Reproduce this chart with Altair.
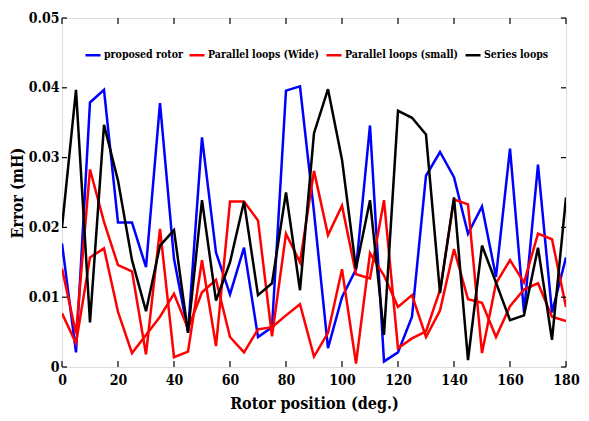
import altair as alt
import pandas as pd

angles = list(range(0, 181, 5))
series_names = ["proposed rotor", "Parallel loops (Wide)", "Parallel loops (small)", "Series loops"]

proposed = [0.0177, 0.0021, 0.0379, 0.0397, 0.0207, 0.0207, 0.0143, 0.0378, 0.0155, 0.0050,
            0.0329, 0.0164, 0.0104, 0.0171, 0.0043, 0.0057, 0.0396, 0.0402, 0.0222, 0.0027,
            0.0100, 0.0140, 0.0346, 0.0008, 0.0021, 0.0072, 0.0274, 0.0308, 0.0272, 0.0191,
            0.0230, 0.0129, 0.0313, 0.0078, 0.0290, 0.0078, 0.0157]
wide = [0.0141, 0.0048, 0.0283, 0.0208, 0.0146, 0.0137, 0.0018, 0.0198, 0.0014, 0.0022,
        0.0153, 0.0030, 0.0237, 0.0237, 0.0210, 0.0044, 0.0191, 0.0150, 0.0281, 0.0189,
        0.0231, 0.0133, 0.0127, 0.0239, 0.0027, 0.0041, 0.0051, 0.0110, 0.0240, 0.0233,
        0.0020, 0.0120, 0.0153, 0.0121, 0.0191, 0.0183, 0.0086]
small = [0.0077, 0.0034, 0.0157, 0.0170, 0.0079, 0.0020, 0.0046, 0.0072, 0.0105, 0.0055,
         0.0107, 0.0125, 0.0043, 0.0021, 0.0054, 0.0057, 0.0074, 0.0090, 0.0015, 0.0049,
         0.0140, 0.0005, 0.0163, 0.0131, 0.0086, 0.0103, 0.0043, 0.0081, 0.0169, 0.0097,
         0.0092, 0.0043, 0.0087, 0.0111, 0.0120, 0.0072, 0.0066]
series = [0.0200, 0.0397, 0.0064, 0.0347, 0.0267, 0.0153, 0.0080, 0.0174, 0.0196, 0.0049,
          0.0239, 0.0095, 0.0150, 0.0237, 0.0103, 0.0120, 0.0250, 0.0110, 0.0335, 0.0398,
          0.0297, 0.0141, 0.0239, 0.0046, 0.0367, 0.0357, 0.0333, 0.0106, 0.0243, 0.0010,
          0.0174, 0.0121, 0.0067, 0.0074, 0.0171, 0.0039, 0.0243]

x_ticks = [0, 20, 40, 60, 80, 100, 120, 140, 160, 180]
y_ticks = [0, 0.01, 0.02, 0.03, 0.04, 0.05]

rows = []
for name, vals in zip(series_names, [proposed, wide, small, series]):
    for a, v in zip(angles, vals):
        rows.append({"angle": a, "error": v, "series": name})
df = pd.DataFrame(rows)

W, H = 504, 349
FONT = "DejaVu Serif Condensed"

xscale = alt.Scale(domain=[0, 180], nice=False, zero=False)
yscale = alt.Scale(domain=[0, 0.05], nice=False)

legend_def = alt.Legend(title=None, orient="none", direction="horizontal",
                        legendX=22, legendY=28, symbolType="stroke",
                        symbolSize=225, labelLimit=400,
                        labelFont=FONT, labelFontSize=10.5,
                        labelFontWeight="bold", labelColor="black",
                        labelOffset=2, columnPadding=1, padding=0)

lines = alt.Chart(df).mark_line(clip=True).encode(
    x=alt.X("angle:Q", scale=xscale,
            axis=alt.Axis(values=x_ticks, title="Rotor position (deg.)", ticks=False,
                          domain=False, grid=False, labelPadding=6, titlePadding=8,
                          labelFont=FONT, labelFontSize=14, labelFontWeight="bold",
                          titleFont=FONT, titleFontSize=16, titleFontWeight="bold",
                          labelColor="black", titleColor="black", labelFlush=False)),
    y=alt.Y("error:Q", scale=yscale,
            axis=alt.Axis(values=y_ticks, format=".2~f", title="Error (mH)", ticks=False,
                          domain=False, grid=False, labelPadding=3,
                          titleX=-37, titleBaseline="bottom",
                          labelFont=FONT, labelFontSize=14, labelFontWeight="bold",
                          titleFont=FONT, titleFontSize=16, titleFontWeight="bold",
                          labelColor="black", titleColor="black", labelFlush=False)),
    color=alt.Color("series:N",
                    scale=alt.Scale(domain=series_names, range=["#0000ff", "#ff0000", "#ff0000", "#000000"]),
                    legend=legend_def),
    strokeWidth=alt.StrokeWidth("series:N",
                                scale=alt.Scale(domain=series_names, range=[2.5, 2.5, 1, 2.5]),
                                legend=legend_def),
)

xt = pd.DataFrame({"t": x_ticks})
yt = pd.DataFrame({"t": y_ticks})
tick_style = dict(color="black", strokeWidth=1.2)

bottom = alt.Chart(xt).mark_rule(**tick_style).encode(
    x=alt.X("t:Q", scale=xscale), y=alt.value(H), y2=alt.value(H - 6))
top = alt.Chart(xt).mark_rule(**tick_style).encode(
    x=alt.X("t:Q", scale=xscale), y=alt.value(0), y2=alt.value(6))
left = alt.Chart(yt).mark_rule(**tick_style).encode(
    y=alt.Y("t:Q", scale=yscale), x=alt.value(0), x2=alt.value(5))
right = alt.Chart(yt).mark_rule(**tick_style).encode(
    y=alt.Y("t:Q", scale=yscale), x=alt.value(W), x2=alt.value(W - 5))

chart = alt.layer(lines, bottom, top, left, right).properties(
    width=W, height=H,
    autosize=alt.AutoSizeParams(type="none"),
    padding={"left": 54, "top": 10, "right": 15, "bottom": 46},
).configure_view(stroke="black", strokeWidth=2).configure(background="white")

chart.save("out.html", embed_options={"renderer": "svg", "actions": False})
